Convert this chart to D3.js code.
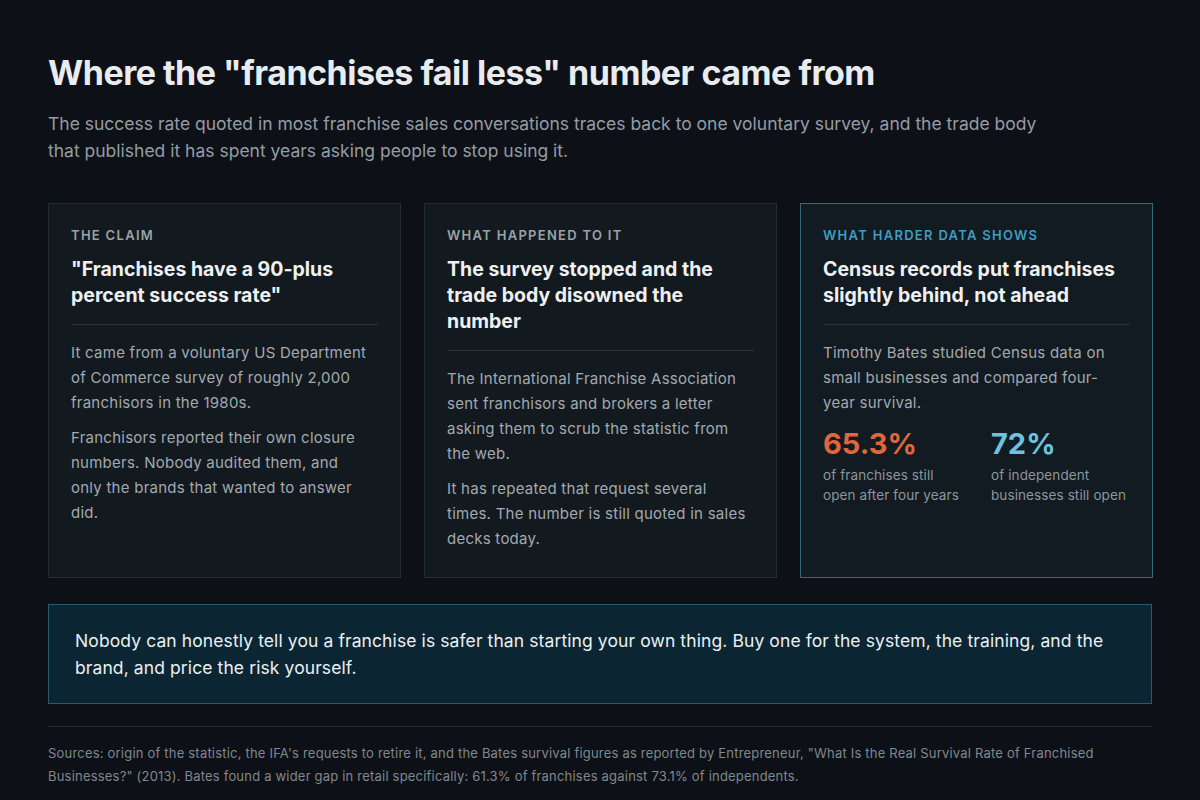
<!DOCTYPE html>
<html><head><meta charset="utf-8">
<script src="https://cdn.jsdelivr.net/npm/d3@7"></script>
<style>
body{margin:0;background:#0d1117;font-family:Inter,"Noto Sans",sans-serif;color:#e6e8ea;width:1200px;height:800px;overflow:hidden}
#wrap{position:absolute;left:48px;top:0;width:1104px}
h1{position:absolute;top:52px;margin:0;font-size:34px;font-weight:700;letter-spacing:-0.5px;color:#e9ecee;white-space:nowrap}
.sub{position:absolute;top:110px;width:1010px;font-size:17.5px;line-height:27px;color:#959ca4}
.cards{position:absolute;top:203px;left:0;display:flex;gap:23px}
.card{box-sizing:border-box;width:353px;height:375px;background:#121a1f;border:1px solid #222c32;padding:23px 22px}
.card.hi{border-color:#2f6a82;background:#111b21}
.lab{font-size:13px;letter-spacing:1.3px;font-weight:600;color:#9aa1a8;margin-top:0}
.hi .lab{color:#3f9cc2}
.hd{font-size:19.5px;font-weight:700;line-height:26px;margin-top:13px;color:#eef0f2}
.rule{height:1px;background:#283238;margin:16px 0 15px}
.p{font-size:15px;line-height:25px;color:#a3a9af;margin-bottom:10px;letter-spacing:0.25px;padding-right:6px}
.stats{display:flex;margin-top:12px}
.stat{width:168px;flex-shrink:0}
.num{font-size:29px;font-weight:700;line-height:34px}
.cap{font-size:13.5px;line-height:19.5px;color:#8e959c;margin-top:5px;max-width:140px;letter-spacing:0.1px}
.call{position:absolute;top:604px;left:0;box-sizing:border-box;width:1104px;height:100px;background:#0c2532;border:1px solid #2b5a6e;padding:22px 26px;font-size:17.5px;line-height:27px;color:#eaf0f3;letter-spacing:0.1px}
.hr{position:absolute;top:726px;left:0;width:1104px;height:1px;background:#232a30}
.src{position:absolute;top:742px;left:0;width:1100px;font-size:13px;line-height:23px;color:#80878e;letter-spacing:0.2px}
</style></head><body><div id="wrap"></div>
<script>
const title='Where the "franchises fail less" number came from';
const subtitle='The success rate quoted in most franchise sales conversations traces back to one voluntary survey, and the trade body that published it has spent years asking people to stop using it.';
const cardLabels=['THE CLAIM','WHAT HAPPENED TO IT','WHAT HARDER DATA SHOWS'];
const cardHeads=['"Franchises have a 90-plus percent success rate"','The survey stopped and the trade body disowned the number','Census records put franchises slightly behind, not ahead'];
const cardBodies=[
 ['It came from a voluntary US Department of Commerce survey of roughly 2,000 franchisors in the 1980s.','Franchisors reported their own closure numbers. Nobody audited them, and only the brands that wanted to answer did.'],
 ['The International Franchise Association sent franchisors and brokers a letter asking them to scrub the statistic from the web.','It has repeated that request several times. The number is still quoted in sales decks today.'],
 ['Timothy Bates studied Census data on small businesses and compared four-year survival.']];
const statValues=[65.3,72];
const statLabels=['of franchises still open after four years','of independent businesses still open'];
const statColors=['#e0663f','#6cc3dc'];
const callout='Nobody can honestly tell you a franchise is safer than starting your own thing. Buy one for the system, the training, and the brand, and price the risk yourself.';
const sources='Sources: origin of the statistic, the IFA\'s requests to retire it, and the Bates survival figures as reported by Entrepreneur, "What Is the Real Survival Rate of Franchised Businesses?" (2013). Bates found a wider gap in retail specifically: 61.3% of franchises against 73.1% of independents.';

const w=d3.select('#wrap');
w.append('h1').text(title);
w.append('div').attr('class','sub').text(subtitle);
const cards=w.append('div').attr('class','cards').selectAll('.card').data(cardLabels).join('div')
 .attr('class',(d,i)=>'card'+(i===2?' hi':''));
cards.append('div').attr('class','lab').text(d=>d);
cards.append('div').attr('class','hd').text((d,i)=>cardHeads[i]);
cards.append('div').attr('class','rule');
cards.each(function(d,i){
 const c=d3.select(this);
 c.selectAll('.p').data(cardBodies[i]).join('div').attr('class','p').text(t=>t);
 if(i===2){
  const s=c.append('div').attr('class','stats').selectAll('.stat').data(statValues).join('div').attr('class','stat');
  const fmt=v=>(Number.isInteger(v)?v:d3.format('.1f')(v))+'%';
  s.append('div').attr('class','num').style('color',(v,j)=>statColors[j]).text(fmt);
  s.append('div').attr('class','cap').text((v,j)=>statLabels[j]);
 }
});
w.append('div').attr('class','call').text(callout);
w.append('div').attr('class','hr');
w.append('div').attr('class','src').text(sources);
</script></body></html>
